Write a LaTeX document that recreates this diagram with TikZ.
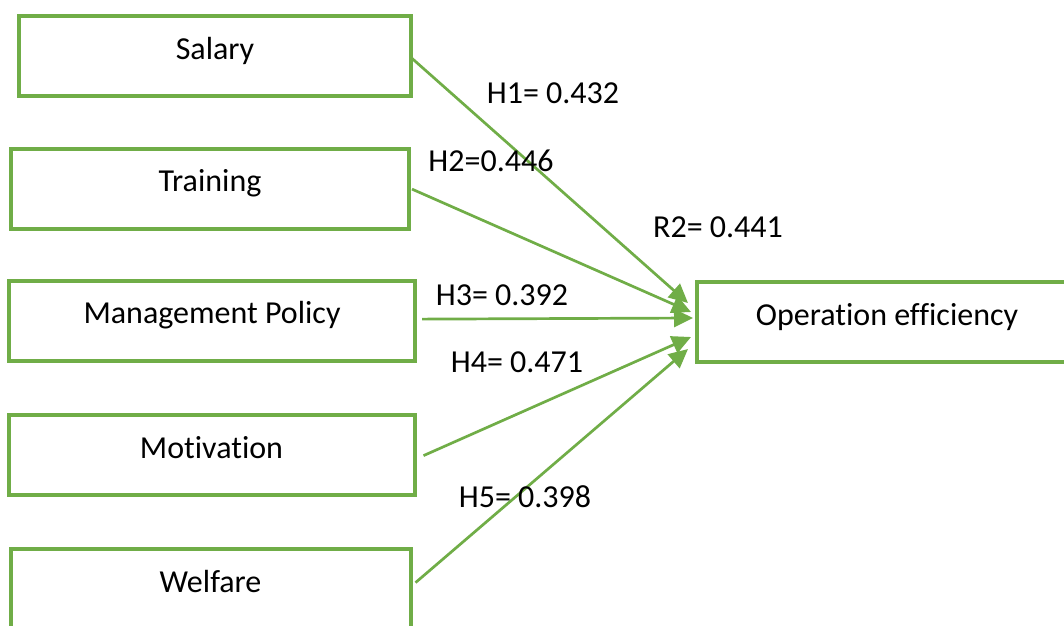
\documentclass[tikz,border=0pt]{standalone}
\usepackage{fontspec}
\setmainfont{Carlito}[Ligatures=NoCommon]
\usetikzlibrary{arrows.meta}
\definecolor{boxgreen}{RGB}{112,173,71}
\begin{document}
\begin{tikzpicture}[x=1pt, y=-1pt,
  factor/.style={draw=boxgreen, line width=4pt, rectangle, minimum height=80pt,
    text height=43pt, text depth=37pt, inner ysep=0pt, inner xsep=0pt,
    font=\fontsize{32}{38}\selectfont},
  effect/.style={draw=boxgreen, line width=2.7pt, -{Triangle[length=19pt, width=18pt]}},
  coef/.style={inner sep=0pt, font=\fontsize{32}{38}\selectfont}]
  \useasboundingbox (0, 0) rectangle (1064, 625);
  \clip (0, 0) rectangle (1064, 625);

  \node[factor, minimum width=392pt] (salary) at (215, 56) {Salary};
  \node[factor, minimum width=398pt] (training) at (210, 188.5) {Training};
  \node[factor, minimum width=406pt] (policy) at (212, 320.5) {Management Policy};
  \node[factor, minimum width=406pt] (motivation) at (211.5, 455) {Motivation};
  \node[factor, minimum width=400pt] (welfare) at (210.5, 589) {Welfare};
  \node[factor, minimum width=380pt] (oe) at (887, 322) {Operation efficiency};

  \draw[effect] ([xshift=-3pt]salary.mid east) -- ([xshift=-7pt, yshift=19pt]oe.west);
  \draw[effect] ([xshift=1pt]training.mid east) -- ([xshift=-4pt, yshift=10pt]oe.west);
  \draw[effect] ([xshift=5pt, yshift=2pt]policy.mid east) -- ([xshift=-2pt, yshift=4pt]oe.west);
  \draw[effect] ([xshift=7pt]motivation.mid east) -- ([xshift=-4pt, yshift=-15pt]oe.west);
  \draw[effect] ([xshift=3pt, yshift=7pt]welfare.mid east) -- ([xshift=-7pt, yshift=-27pt]oe.west);

  \node[coef] (h1) at (553, 93) {H1= 0.432};
  \node[coef] (h2) at (491, 161) {H2=0.446};
  \node[coef] (r2) at (718, 227) {R2= 0.441};
  \node[coef] (h3) at (502, 295) {H3= 0.392};
  \node[coef] (h4) at (517, 362) {H4= 0.471};
  \node[coef] (h5) at (525, 497) {H5= 0.398};
\end{tikzpicture}
\end{document}
